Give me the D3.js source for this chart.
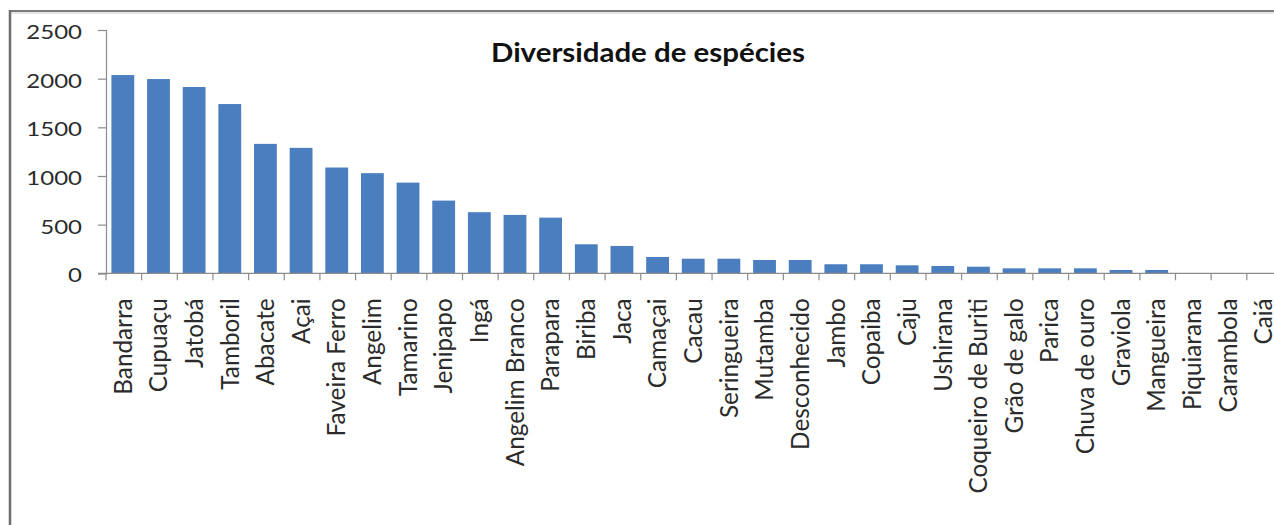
<!DOCTYPE html>
<html>
<head>
<meta charset="utf-8">
<script src="https://cdn.jsdelivr.net/npm/d3@7/dist/d3.min.js"></script>
<style>
  html, body { margin: 0; padding: 0; background: #fff; }
  svg { display: block; }
</style>
</head>
<body>
<svg id="chart" width="1274" height="525"></svg>
<script>
// Species counts per tree type
const categories = [
  "Bandarra", "Cupuaçu", "Jatobá", "Tamboril", "Abacate", "Açai", "Faveira Ferro",
  "Angelim", "Tamarino", "Jenipapo", "Ingá", "Angelim Branco", "Parapara", "Biriba",
  "Jaca", "Camaçai", "Cacau", "Seringueira", "Mutamba", "Desconhecido", "Jambo",
  "Copaiba", "Caju", "Ushirana", "Coqueiro de Buriti", "Grão de galo", "Parica",
  "Chuva de ouro", "Graviola", "Mangueira", "Piquiarana", "Carambola", "Caiá"
];
const values = [
  2037, 1996, 1914, 1739, 1330, 1289, 1087,
  1029, 932, 747, 628, 600, 572, 298,
  281, 168, 150, 150, 137, 137, 93,
  93, 82, 75, 68, 51, 51,
  51, 34, 34, 3, 3, 3
];
const yTicks = [0, 500, 1000, 1500, 2000, 2500];
const title = "Diversidade de espécies";

const svg = d3.select("#chart");
const W = 1274, H = 525;

// Plot area
const plotLeft = 106, plotTop = 30, plotBottom = 273.3;
const step = 35.65;
const plotRight = plotLeft + step * categories.length;

const x = d3.scaleBand()
  .domain(categories)
  .range([plotLeft, plotRight])
  .paddingInner(0.36)
  .paddingOuter(0.18);

const y = d3.scaleLinear()
  .domain([0, 2500])
  .range([plotBottom, plotTop]);

// Outer frame (left and top edges)
const frame = svg.append("g");
frame.append("line").attr("x1", 10).attr("x2", W).attr("y1", 13).attr("y2", 13)
  .attr("stroke", "#e6e6e6").attr("stroke-width", 2);
frame.append("line").attr("x1", 10).attr("x2", W).attr("y1", 11).attr("y2", 11)
  .attr("stroke", "#7a7a7a").attr("stroke-width", 2);
frame.append("line").attr("x1", 10).attr("x2", 10).attr("y1", 10).attr("y2", H)
  .attr("stroke", "#6e6e6e").attr("stroke-width", 2.5);

// Bars
svg.append("g")
  .selectAll("rect")
  .data(values)
  .join("rect")
  .attr("x", (d, i) => x(categories[i]) - 1)
  .attr("width", x.bandwidth())
  .attr("y", d => y(d))
  .attr("height", d => y(0) - y(d))
  .attr("fill", "#4a7ebf");

// Y axis
const yAxis = svg.append("g")
  .attr("transform", `translate(${plotLeft},0)`)
  .call(d3.axisLeft(y).tickValues(yTicks).tickSize(8).tickPadding(16).tickFormat(d3.format("d")));
yAxis.select(".domain").attr("stroke", "#8c8c8c").attr("stroke-width", 1.2);
yAxis.selectAll(".tick line").attr("stroke", "#8c8c8c").attr("stroke-width", 1.2);
yAxis.selectAll(".tick text")
  .attr("font-family", "Lato, 'Open Sans', sans-serif")
  .attr("font-size", 20)
  .attr("fill", "#2b2b2b")
  .attr("dy", "0.42em")
  .each(function () {
    const w = this.getComputedTextLength();
    d3.select(this).attr("textLength", w * 1.2).attr("lengthAdjust", "spacingAndGlyphs");
  });

// X axis: line, boundary ticks, rotated labels
const xAxis = svg.append("g");
xAxis.append("line")
  .attr("x1", plotLeft - 8).attr("x2", W).attr("y1", plotBottom).attr("y2", plotBottom)
  .attr("stroke", "#8c8c8c").attr("stroke-width", 1.2);
xAxis.selectAll("line.tk")
  .data(d3.range(categories.length + 1))
  .join("line")
  .attr("class", "tk")
  .attr("x1", i => plotLeft + i * x.step())
  .attr("x2", i => plotLeft + i * x.step())
  .attr("y1", plotBottom)
  .attr("y2", plotBottom + 7)
  .attr("stroke", "#8c8c8c").attr("stroke-width", 1.2);

xAxis.selectAll("text")
  .data(categories)
  .join("text")
  .attr("transform", d => `translate(${x(d) + x.bandwidth() / 2 - 1},${plotBottom + 25}) rotate(-90)`)
  .attr("text-anchor", "end")
  .attr("dy", "0.36em")
  .attr("font-family", "Lato, 'Open Sans', sans-serif")
  .attr("font-size", 24.3)
  .attr("fill", "#2b2b2b")
  .text(d => d);

// Title
svg.append("text")
  .attr("x", 648)
  .attr("y", 62)
  .attr("text-anchor", "middle")
  .attr("font-family", "Lato, 'Open Sans', sans-serif")
  .attr("font-weight", "bold")
  .attr("font-size", 27)
  .attr("fill", "#111")
  .attr("textLength", 314)
  .attr("lengthAdjust", "spacingAndGlyphs")
  .text(title);
</script>
</body>
</html>
